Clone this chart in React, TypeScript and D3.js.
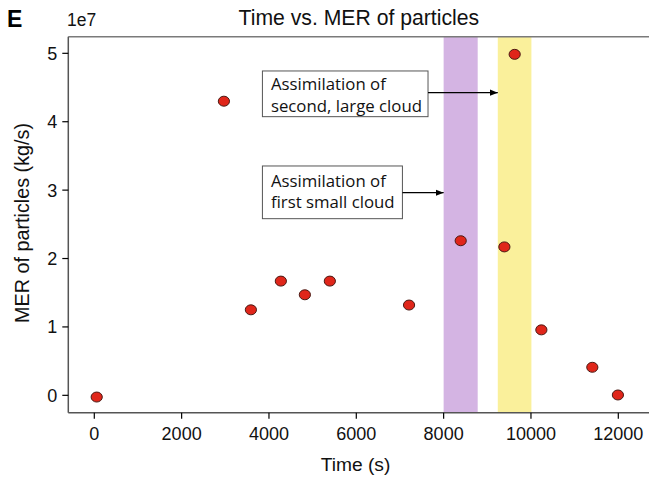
import React from "react";
import * as d3 from "d3";

const times = [55, 2968, 3586, 4272, 4822, 5394, 7208, 8391, 9391, 9627, 10238, 11405, 11991];
const mer = [-0.25e6, 4.30e7, 1.25e7, 1.67e7, 1.47e7, 1.67e7, 1.32e7, 2.26e7, 2.17e7, 4.985e7, 0.957e7, 0.41e7, 0.005e7];
const xTicks = [0, 2000, 4000, 6000, 8000, 10000, 12000];
const yTicks = [0, 1e7, 2e7, 3e7, 4e7, 5e7];
const bands = [
  { start: 8000, end: 8780, color: "#d4b4e3" },
  { start: 9240, end: 10010, color: "#faf09b" },
];
const annotations = [
  { lines: ["Assimilation of", "second, large cloud"], boxX: 3850, boxY: 4.742e7, tipX: 9240, tipY: 4.424e7 },
  { lines: ["Assimilation of", "first small cloud"], boxX: 3850, boxY: 3.353e7, tipX: 8000, tipY: 2.962e7 },
];

const W = 649;
const H = 480;
const left = 68.3;
const top = 36.7;
const bottom = 412.7;

export default function App() {
  const x = d3.scaleLinear().domain([0, 12000]).range([94.3, 618.3]);
  const y = d3.scaleLinear().domain([-0.254e7, 5.243e7]).range([bottom, top]);
  const font = "Liberation Sans, Arial, sans-serif";
  const annFont = "Open Sans, sans-serif";
  const annFs = 16.8;
  const lineH = 21.5;
  const boxW = [165.6, 140];
  const boxH = [45.7, 52.7];
  const textOff = [19.5, 21];
  return (
    <svg width={W} height={H} style={{ position: "absolute", left: 0, top: 0, background: "#fff" }}>
      <defs>
        <clipPath id="plot">
          <rect x={left} y={top} width={W - left} height={bottom - top} />
        </clipPath>
        <marker id="arr" viewBox="0 0 10 10" refX="10" refY="5" markerWidth="8" markerHeight="8" orient="auto" markerUnits="userSpaceOnUse">
          <path d="M0,1 L10,5 L0,9 z" fill="#000" />
        </marker>
      </defs>
      <g clipPath="url(#plot)">
        {bands.map((b, i) => (
          <rect key={i} x={x(b.start)} y={top} width={x(b.end) - x(b.start)} height={bottom - top} fill={b.color} />
        ))}
      </g>
      {/* spines */}
      <line x1={left} x2={W} y1={top} y2={top} stroke="#7a7a7a" strokeWidth={1.5} />
      <line x1={left} x2={W} y1={bottom} y2={bottom} stroke="#555" strokeWidth={1.5} />
      <line x1={left} x2={left} y1={top} y2={bottom} stroke="#555" strokeWidth={1.5} />
      {/* x ticks */}
      {xTicks.map((t) => (
        <g key={t}>
          <line x1={x(t)} x2={x(t)} y1={bottom} y2={bottom + 6} stroke="#000" strokeWidth={1.2} />
          <text x={x(t)} y={bottom + 27.5} textAnchor="middle" fontFamily={font} fontSize={18} fill="#111">{t}</text>
        </g>
      ))}
      {/* y ticks */}
      {yTicks.map((t) => (
        <g key={t}>
          <line x1={left - 6} x2={left} y1={y(t)} y2={y(t)} stroke="#000" strokeWidth={1.2} />
          <text x={left - 11} y={y(t) + 6.4} textAnchor="end" fontFamily={font} fontSize={18} fill="#111">{t / 1e7}</text>
        </g>
      ))}
      <text x={67} y={26} fontFamily={font} fontSize={17.5} fill="#111">1e7</text>
      <text x={7} y={27} fontFamily={font} fontSize={23} fontWeight="bold" fill="#000">E</text>
      <text x={358.8} y={25} textAnchor="middle" fontFamily={font} fontSize={21.2} fill="#111">Time vs. MER of particles</text>
      <text x={355.5} y={471} textAnchor="middle" fontFamily={font} fontSize={19.2} fill="#111">Time (s)</text>
      <text transform={`translate(29,223) rotate(-90)`} textAnchor="middle" fontFamily={font} fontSize={19.8} fill="#111">MER of particles (kg/s)</text>
      {/* annotations */}
      {annotations.map((a, i) => {
        const bx = x(a.boxX);
        const by = y(a.boxY);
        return (
          <g key={i}>
            <rect x={bx} y={by} width={boxW[i]} height={boxH[i]} fill="#fff" stroke="#555" strokeWidth={1} />
            {a.lines.map((l, j) => (
              <text key={j} x={bx + 8.5} y={by + textOff[i] + j * lineH} fontFamily={annFont} fontSize={annFs} fill="#111">{l}</text>
            ))}
            <line x1={bx + boxW[i]} x2={x(a.tipX)} y1={y(a.tipY)} y2={y(a.tipY)} stroke="#000" strokeWidth={1.2} markerEnd="url(#arr)" />
          </g>
        );
      })}
      {/* points */}
      {times.map((t, i) => (
        <ellipse key={i} cx={x(t)} cy={y(mer[i])} rx={5.6} ry={5} fill="#e0261a" stroke="#4a1a14" strokeWidth={1} />
      ))}
    </svg>
  );
}
